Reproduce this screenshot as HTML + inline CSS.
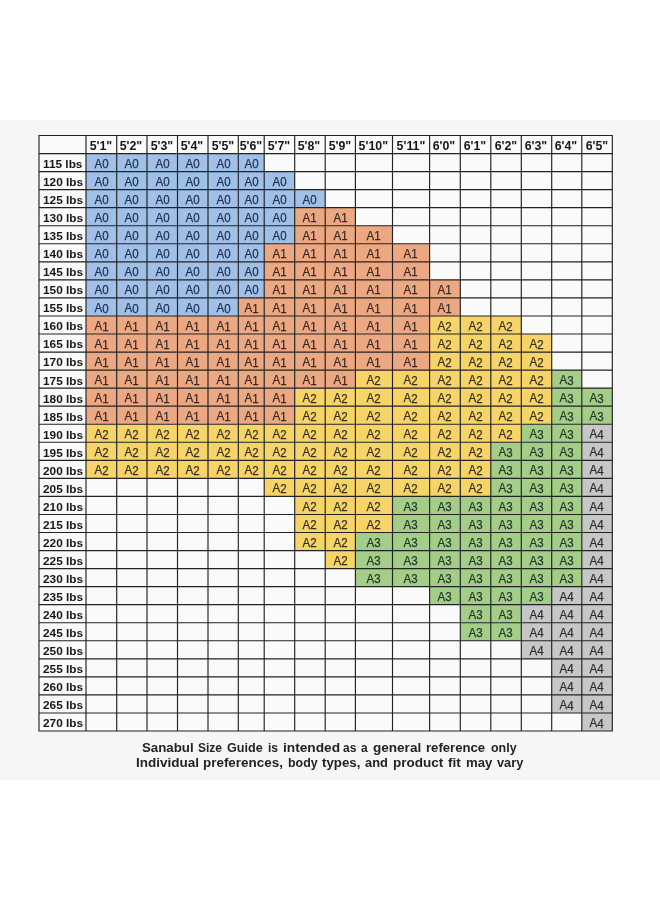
<!DOCTYPE html>
<html><head><meta charset="utf-8"><title>Size Guide</title>
<style>
html,body{margin:0;padding:0;background:#fff;}
body{width:660px;height:900px;position:relative;overflow:hidden;font-family:"Liberation Sans",sans-serif;}
.bg{position:absolute;left:0;top:120px;width:660px;height:659.5px;background:#f6f6f6;}
.t{position:absolute;text-align:center;white-space:nowrap;color:#26304a;font-size:12.4px;line-height:18px;}
.h{position:absolute;text-align:center;white-space:nowrap;color:#161616;font-weight:bold;font-size:12px;line-height:18px;}
.w{position:absolute;text-align:left;white-space:nowrap;color:#161616;font-weight:bold;font-size:11px;line-height:18px;}
.h span,.w span,.t span{display:inline-block;}
.t span{transform:rotate(0.01deg) scaleX(0.93);-webkit-text-stroke:0.25px currentColor;}
.s span{transform:translateY(0.5px) rotate(0.01deg) scaleX(0.93);}
.t0{color:#1f2f52}.t1{color:#3a2a24}.t2{color:#363020}.t3{color:#26382a}.t4{color:#2e2e30}
.n{position:absolute;text-align:left;white-space:nowrap;font-weight:bold;color:#232323;font-size:12px;line-height:15px;}
.n span{display:inline-block;transform-origin:0 50%;}
</style></head><body>
<div class="bg"></div>
<div id="all" style="will-change:transform;position:absolute;left:0;top:0;width:660px;height:900px">

<svg width="660" height="900" viewBox="0 0 660 900" style="position:absolute;left:0;top:0">
<rect x="39.00" y="135.50" width="573.30" height="595.50" fill="#fafafa"/>
<rect x="86.00" y="153.55" width="178.20" height="18.05" fill="#a1c0e7"/>
<rect x="86.00" y="171.59" width="208.70" height="18.05" fill="#a1c0e7"/>
<rect x="86.00" y="189.64" width="239.20" height="18.05" fill="#a1c0e7"/>
<rect x="86.00" y="207.68" width="208.70" height="18.05" fill="#a1c0e7"/>
<rect x="294.70" y="207.68" width="60.70" height="18.05" fill="#eca883"/>
<rect x="86.00" y="225.73" width="208.70" height="18.05" fill="#a1c0e7"/>
<rect x="294.70" y="225.73" width="97.80" height="18.05" fill="#eca883"/>
<rect x="86.00" y="243.77" width="178.20" height="18.05" fill="#a1c0e7"/>
<rect x="264.20" y="243.77" width="165.40" height="18.05" fill="#eca883"/>
<rect x="86.00" y="261.82" width="178.20" height="18.05" fill="#a1c0e7"/>
<rect x="264.20" y="261.82" width="165.40" height="18.05" fill="#eca883"/>
<rect x="86.00" y="279.86" width="178.20" height="18.05" fill="#a1c0e7"/>
<rect x="264.20" y="279.86" width="196.10" height="18.05" fill="#eca883"/>
<rect x="86.00" y="297.91" width="152.30" height="18.05" fill="#a1c0e7"/>
<rect x="238.30" y="297.91" width="222.00" height="18.05" fill="#eca883"/>
<rect x="86.00" y="315.95" width="343.60" height="18.05" fill="#eca883"/>
<rect x="429.60" y="315.95" width="91.70" height="18.05" fill="#f7d468"/>
<rect x="86.00" y="334.00" width="343.60" height="18.05" fill="#eca883"/>
<rect x="429.60" y="334.00" width="122.10" height="18.05" fill="#f7d468"/>
<rect x="86.00" y="352.05" width="343.60" height="18.05" fill="#eca883"/>
<rect x="429.60" y="352.05" width="122.10" height="18.05" fill="#f7d468"/>
<rect x="86.00" y="370.09" width="269.40" height="18.05" fill="#eca883"/>
<rect x="355.40" y="370.09" width="196.30" height="18.05" fill="#f7d468"/>
<rect x="551.70" y="370.09" width="30.10" height="18.05" fill="#a4cd88"/>
<rect x="86.00" y="388.14" width="208.70" height="18.05" fill="#eca883"/>
<rect x="294.70" y="388.14" width="257.00" height="18.05" fill="#f7d468"/>
<rect x="551.70" y="388.14" width="60.60" height="18.05" fill="#a4cd88"/>
<rect x="86.00" y="406.18" width="208.70" height="18.05" fill="#eca883"/>
<rect x="294.70" y="406.18" width="257.00" height="18.05" fill="#f7d468"/>
<rect x="551.70" y="406.18" width="60.60" height="18.05" fill="#a4cd88"/>
<rect x="86.00" y="424.23" width="435.30" height="18.05" fill="#f7d468"/>
<rect x="521.30" y="424.23" width="60.50" height="18.05" fill="#a4cd88"/>
<rect x="581.80" y="424.23" width="30.50" height="18.05" fill="#c7c7c7"/>
<rect x="86.00" y="442.27" width="404.80" height="18.05" fill="#f7d468"/>
<rect x="490.80" y="442.27" width="91.00" height="18.05" fill="#a4cd88"/>
<rect x="581.80" y="442.27" width="30.50" height="18.05" fill="#c7c7c7"/>
<rect x="86.00" y="460.32" width="404.80" height="18.05" fill="#f7d468"/>
<rect x="490.80" y="460.32" width="91.00" height="18.05" fill="#a4cd88"/>
<rect x="581.80" y="460.32" width="30.50" height="18.05" fill="#c7c7c7"/>
<rect x="264.20" y="478.36" width="226.60" height="18.05" fill="#f7d468"/>
<rect x="490.80" y="478.36" width="91.00" height="18.05" fill="#a4cd88"/>
<rect x="581.80" y="478.36" width="30.50" height="18.05" fill="#c7c7c7"/>
<rect x="294.70" y="496.41" width="97.80" height="18.05" fill="#f7d468"/>
<rect x="392.50" y="496.41" width="189.30" height="18.05" fill="#a4cd88"/>
<rect x="581.80" y="496.41" width="30.50" height="18.05" fill="#c7c7c7"/>
<rect x="294.70" y="514.45" width="97.80" height="18.05" fill="#f7d468"/>
<rect x="392.50" y="514.45" width="189.30" height="18.05" fill="#a4cd88"/>
<rect x="581.80" y="514.45" width="30.50" height="18.05" fill="#c7c7c7"/>
<rect x="294.70" y="532.50" width="60.70" height="18.05" fill="#f7d468"/>
<rect x="355.40" y="532.50" width="226.40" height="18.05" fill="#a4cd88"/>
<rect x="581.80" y="532.50" width="30.50" height="18.05" fill="#c7c7c7"/>
<rect x="325.20" y="550.55" width="30.20" height="18.05" fill="#f7d468"/>
<rect x="355.40" y="550.55" width="226.40" height="18.05" fill="#a4cd88"/>
<rect x="581.80" y="550.55" width="30.50" height="18.05" fill="#c7c7c7"/>
<rect x="355.40" y="568.59" width="226.40" height="18.05" fill="#a4cd88"/>
<rect x="581.80" y="568.59" width="30.50" height="18.05" fill="#c7c7c7"/>
<rect x="429.60" y="586.64" width="122.10" height="18.05" fill="#a4cd88"/>
<rect x="551.70" y="586.64" width="60.60" height="18.05" fill="#c7c7c7"/>
<rect x="460.30" y="604.68" width="61.00" height="18.05" fill="#a4cd88"/>
<rect x="521.30" y="604.68" width="91.00" height="18.05" fill="#c7c7c7"/>
<rect x="460.30" y="622.73" width="61.00" height="18.05" fill="#a4cd88"/>
<rect x="521.30" y="622.73" width="91.00" height="18.05" fill="#c7c7c7"/>
<rect x="521.30" y="640.77" width="91.00" height="18.05" fill="#c7c7c7"/>
<rect x="551.70" y="658.82" width="60.60" height="18.05" fill="#c7c7c7"/>
<rect x="551.70" y="676.86" width="60.60" height="18.05" fill="#c7c7c7"/>
<rect x="551.70" y="694.91" width="60.60" height="18.05" fill="#c7c7c7"/>
<rect x="581.80" y="712.95" width="30.50" height="18.05" fill="#c7c7c7"/>
<path d="M39.00 134.93V731.58M86.00 134.93V731.58M116.70 134.93V731.58M147.00 134.93V731.58M177.50 134.93V731.58M208.00 134.93V731.58M238.30 134.93V731.58M264.20 134.93V731.58M294.70 134.93V731.58M325.20 134.93V731.58M355.40 134.93V731.58M392.50 134.93V731.58M429.60 134.93V731.58M460.30 134.93V731.58M490.80 134.93V731.58M521.30 134.93V731.58M551.70 134.93V731.58M581.80 134.93V731.58M612.30 134.93V731.58M38.42 135.50H612.88M38.42 153.55H612.88M38.42 171.59H612.88M38.42 189.64H612.88M38.42 207.68H612.88M38.42 225.73H612.88M38.42 243.77H612.88M38.42 261.82H612.88M38.42 279.86H612.88M38.42 297.91H612.88M38.42 315.95H612.88M38.42 334.00H612.88M38.42 352.05H612.88M38.42 370.09H612.88M38.42 388.14H612.88M38.42 406.18H612.88M38.42 424.23H612.88M38.42 442.27H612.88M38.42 460.32H612.88M38.42 478.36H612.88M38.42 496.41H612.88M38.42 514.45H612.88M38.42 532.50H612.88M38.42 550.55H612.88M38.42 568.59H612.88M38.42 586.64H612.88M38.42 604.68H612.88M38.42 622.73H612.88M38.42 640.77H612.88M38.42 658.82H612.88M38.42 676.86H612.88M38.42 694.91H612.88M38.42 712.95H612.88M38.42 731.00H612.88" stroke="#222222" stroke-width="1.15" fill="none"/>
</svg>
<div class="h" style="left:85.5px;top:136.50px;width:30.7px"><span style="transform:scaleX(1.03)">5'1&quot;</span></div>
<div class="h" style="left:116.2px;top:136.50px;width:30.3px"><span style="transform:scaleX(1.03)">5'2&quot;</span></div>
<div class="h" style="left:146.5px;top:136.50px;width:30.5px"><span style="transform:scaleX(1.03)">5'3&quot;</span></div>
<div class="h" style="left:177.0px;top:136.50px;width:30.5px"><span style="transform:scaleX(1.03)">5'4&quot;</span></div>
<div class="h" style="left:207.5px;top:136.50px;width:30.3px"><span style="transform:scaleX(1.03)">5'5&quot;</span></div>
<div class="h" style="left:237.8px;top:136.50px;width:25.9px"><span style="transform:scaleX(1.03)">5'6&quot;</span></div>
<div class="h" style="left:263.7px;top:136.50px;width:30.5px"><span style="transform:scaleX(1.03)">5'7&quot;</span></div>
<div class="h" style="left:294.2px;top:136.50px;width:30.5px"><span style="transform:scaleX(1.03)">5'8&quot;</span></div>
<div class="h" style="left:324.7px;top:136.50px;width:30.2px"><span style="transform:scaleX(1.03)">5'9&quot;</span></div>
<div class="h" style="left:354.9px;top:136.50px;width:37.1px"><span style="transform:scaleX(1.03)">5'10&quot;</span></div>
<div class="h" style="left:392.0px;top:136.50px;width:37.1px"><span style="transform:scaleX(1.03)">5'11&quot;</span></div>
<div class="h" style="left:429.1px;top:136.50px;width:30.7px"><span style="transform:scaleX(1.03)">6'0&quot;</span></div>
<div class="h" style="left:459.8px;top:136.50px;width:30.5px"><span style="transform:scaleX(1.03)">6'1&quot;</span></div>
<div class="h" style="left:490.3px;top:136.50px;width:30.5px"><span style="transform:scaleX(1.03)">6'2&quot;</span></div>
<div class="h" style="left:520.8px;top:136.50px;width:30.4px"><span style="transform:scaleX(1.03)">6'3&quot;</span></div>
<div class="h" style="left:551.2px;top:136.50px;width:30.1px"><span style="transform:scaleX(1.03)">6'4&quot;</span></div>
<div class="h" style="left:581.3px;top:136.50px;width:30.5px"><span style="transform:scaleX(1.03)">6'5&quot;</span></div>
<div class="w" style="left:43.0px;top:154px;"><span style="transform:translateY(0.5px) rotate(0.01deg) scaleX(1.075);transform-origin:0 50%">115 lbs</span></div>
<div class="w" style="left:43.0px;top:173px;"><span style="transform:translateY(0px) rotate(0.01deg) scaleX(1.075);transform-origin:0 50%">120 lbs</span></div>
<div class="w" style="left:43.0px;top:191px;"><span style="transform:translateY(0px) rotate(0.01deg) scaleX(1.075);transform-origin:0 50%">125 lbs</span></div>
<div class="w" style="left:43.0px;top:209px;"><span style="transform:translateY(0px) rotate(0.01deg) scaleX(1.075);transform-origin:0 50%">130 lbs</span></div>
<div class="w" style="left:43.0px;top:227px;"><span style="transform:translateY(0px) rotate(0.01deg) scaleX(1.075);transform-origin:0 50%">135 lbs</span></div>
<div class="w" style="left:43.0px;top:245px;"><span style="transform:translateY(0px) rotate(0.01deg) scaleX(1.075);transform-origin:0 50%">140 lbs</span></div>
<div class="w" style="left:43.0px;top:263px;"><span style="transform:translateY(0px) rotate(0.01deg) scaleX(1.075);transform-origin:0 50%">145 lbs</span></div>
<div class="w" style="left:43.0px;top:281px;"><span style="transform:translateY(0px) rotate(0.01deg) scaleX(1.075);transform-origin:0 50%">150 lbs</span></div>
<div class="w" style="left:43.0px;top:299px;"><span style="transform:translateY(0px) rotate(0.01deg) scaleX(1.075);transform-origin:0 50%">155 lbs</span></div>
<div class="w" style="left:43.0px;top:317px;"><span style="transform:translateY(0px) rotate(0.01deg) scaleX(1.075);transform-origin:0 50%">160 lbs</span></div>
<div class="w" style="left:43.0px;top:335px;"><span style="transform:translateY(0px) rotate(0.01deg) scaleX(1.075);transform-origin:0 50%">165 lbs</span></div>
<div class="w" style="left:43.0px;top:353px;"><span style="transform:translateY(0px) rotate(0.01deg) scaleX(1.075);transform-origin:0 50%">170 lbs</span></div>
<div class="w" style="left:43.0px;top:371px;"><span style="transform:translateY(0.5px) rotate(0.01deg) scaleX(1.075);transform-origin:0 50%">175 lbs</span></div>
<div class="w" style="left:43.0px;top:389px;"><span style="transform:translateY(0.5px) rotate(0.01deg) scaleX(1.075);transform-origin:0 50%">180 lbs</span></div>
<div class="w" style="left:43.0px;top:407px;"><span style="transform:translateY(0.5px) rotate(0.01deg) scaleX(1.075);transform-origin:0 50%">185 lbs</span></div>
<div class="w" style="left:43.0px;top:425px;"><span style="transform:translateY(0.5px) rotate(0.01deg) scaleX(1.075);transform-origin:0 50%">190 lbs</span></div>
<div class="w" style="left:43.0px;top:443px;"><span style="transform:translateY(0.5px) rotate(0.01deg) scaleX(1.075);transform-origin:0 50%">195 lbs</span></div>
<div class="w" style="left:43.0px;top:461px;"><span style="transform:translateY(0.5px) rotate(0.01deg) scaleX(1.075);transform-origin:0 50%">200 lbs</span></div>
<div class="w" style="left:43.0px;top:479px;"><span style="transform:translateY(0.5px) rotate(0.01deg) scaleX(1.075);transform-origin:0 50%">205 lbs</span></div>
<div class="w" style="left:43.0px;top:497px;"><span style="transform:translateY(0.5px) rotate(0.01deg) scaleX(1.075);transform-origin:0 50%">210 lbs</span></div>
<div class="w" style="left:43.0px;top:515px;"><span style="transform:translateY(0.5px) rotate(0.01deg) scaleX(1.075);transform-origin:0 50%">215 lbs</span></div>
<div class="w" style="left:43.0px;top:533px;"><span style="transform:translateY(0.5px) rotate(0.01deg) scaleX(1.075);transform-origin:0 50%">220 lbs</span></div>
<div class="w" style="left:43.0px;top:551px;"><span style="transform:translateY(0.5px) rotate(0.01deg) scaleX(1.075);transform-origin:0 50%">225 lbs</span></div>
<div class="w" style="left:43.0px;top:570px;"><span style="transform:translateY(0px) rotate(0.01deg) scaleX(1.075);transform-origin:0 50%">230 lbs</span></div>
<div class="w" style="left:43.0px;top:588px;"><span style="transform:translateY(0px) rotate(0.01deg) scaleX(1.075);transform-origin:0 50%">235 lbs</span></div>
<div class="w" style="left:43.0px;top:606px;"><span style="transform:translateY(0px) rotate(0.01deg) scaleX(1.075);transform-origin:0 50%">240 lbs</span></div>
<div class="w" style="left:43.0px;top:624px;"><span style="transform:translateY(0px) rotate(0.01deg) scaleX(1.075);transform-origin:0 50%">245 lbs</span></div>
<div class="w" style="left:43.0px;top:642px;"><span style="transform:translateY(0px) rotate(0.01deg) scaleX(1.075);transform-origin:0 50%">250 lbs</span></div>
<div class="w" style="left:43.0px;top:660px;"><span style="transform:translateY(0px) rotate(0.01deg) scaleX(1.075);transform-origin:0 50%">255 lbs</span></div>
<div class="w" style="left:43.0px;top:678px;"><span style="transform:translateY(0px) rotate(0.01deg) scaleX(1.075);transform-origin:0 50%">260 lbs</span></div>
<div class="w" style="left:43.0px;top:696px;"><span style="transform:translateY(0px) rotate(0.01deg) scaleX(1.075);transform-origin:0 50%">265 lbs</span></div>
<div class="w" style="left:43.0px;top:714px;"><span style="transform:translateY(0px) rotate(0.01deg) scaleX(1.075);transform-origin:0 50%">270 lbs</span></div>
<div class="t t0" style="left:86.0px;top:155px;width:30.7px"><span>A0</span></div>
<div class="t t0" style="left:116.7px;top:155px;width:30.3px"><span>A0</span></div>
<div class="t t0" style="left:147.0px;top:155px;width:30.5px"><span>A0</span></div>
<div class="t t0" style="left:177.5px;top:155px;width:30.5px"><span>A0</span></div>
<div class="t t0" style="left:208.0px;top:155px;width:30.3px"><span>A0</span></div>
<div class="t t0" style="left:238.3px;top:155px;width:25.9px"><span>A0</span></div>
<div class="t t0" style="left:86.0px;top:173px;width:30.7px"><span>A0</span></div>
<div class="t t0" style="left:116.7px;top:173px;width:30.3px"><span>A0</span></div>
<div class="t t0" style="left:147.0px;top:173px;width:30.5px"><span>A0</span></div>
<div class="t t0" style="left:177.5px;top:173px;width:30.5px"><span>A0</span></div>
<div class="t t0" style="left:208.0px;top:173px;width:30.3px"><span>A0</span></div>
<div class="t t0" style="left:238.3px;top:173px;width:25.9px"><span>A0</span></div>
<div class="t t0" style="left:264.2px;top:173px;width:30.5px"><span>A0</span></div>
<div class="t t0" style="left:86.0px;top:191px;width:30.7px"><span>A0</span></div>
<div class="t t0" style="left:116.7px;top:191px;width:30.3px"><span>A0</span></div>
<div class="t t0" style="left:147.0px;top:191px;width:30.5px"><span>A0</span></div>
<div class="t t0" style="left:177.5px;top:191px;width:30.5px"><span>A0</span></div>
<div class="t t0" style="left:208.0px;top:191px;width:30.3px"><span>A0</span></div>
<div class="t t0" style="left:238.3px;top:191px;width:25.9px"><span>A0</span></div>
<div class="t t0" style="left:264.2px;top:191px;width:30.5px"><span>A0</span></div>
<div class="t t0" style="left:294.7px;top:191px;width:30.5px"><span>A0</span></div>
<div class="t t0" style="left:86.0px;top:209px;width:30.7px"><span>A0</span></div>
<div class="t t0" style="left:116.7px;top:209px;width:30.3px"><span>A0</span></div>
<div class="t t0" style="left:147.0px;top:209px;width:30.5px"><span>A0</span></div>
<div class="t t0" style="left:177.5px;top:209px;width:30.5px"><span>A0</span></div>
<div class="t t0" style="left:208.0px;top:209px;width:30.3px"><span>A0</span></div>
<div class="t t0" style="left:238.3px;top:209px;width:25.9px"><span>A0</span></div>
<div class="t t0" style="left:264.2px;top:209px;width:30.5px"><span>A0</span></div>
<div class="t t1" style="left:294.7px;top:209px;width:30.5px"><span>A1</span></div>
<div class="t t1" style="left:325.2px;top:209px;width:30.2px"><span>A1</span></div>
<div class="t t0" style="left:86.0px;top:227px;width:30.7px"><span>A0</span></div>
<div class="t t0" style="left:116.7px;top:227px;width:30.3px"><span>A0</span></div>
<div class="t t0" style="left:147.0px;top:227px;width:30.5px"><span>A0</span></div>
<div class="t t0" style="left:177.5px;top:227px;width:30.5px"><span>A0</span></div>
<div class="t t0" style="left:208.0px;top:227px;width:30.3px"><span>A0</span></div>
<div class="t t0" style="left:238.3px;top:227px;width:25.9px"><span>A0</span></div>
<div class="t t0" style="left:264.2px;top:227px;width:30.5px"><span>A0</span></div>
<div class="t t1" style="left:294.7px;top:227px;width:30.5px"><span>A1</span></div>
<div class="t t1" style="left:325.2px;top:227px;width:30.2px"><span>A1</span></div>
<div class="t t1" style="left:355.4px;top:227px;width:37.1px"><span>A1</span></div>
<div class="t t0" style="left:86.0px;top:245px;width:30.7px"><span>A0</span></div>
<div class="t t0" style="left:116.7px;top:245px;width:30.3px"><span>A0</span></div>
<div class="t t0" style="left:147.0px;top:245px;width:30.5px"><span>A0</span></div>
<div class="t t0" style="left:177.5px;top:245px;width:30.5px"><span>A0</span></div>
<div class="t t0" style="left:208.0px;top:245px;width:30.3px"><span>A0</span></div>
<div class="t t0" style="left:238.3px;top:245px;width:25.9px"><span>A0</span></div>
<div class="t t1" style="left:264.2px;top:245px;width:30.5px"><span>A1</span></div>
<div class="t t1" style="left:294.7px;top:245px;width:30.5px"><span>A1</span></div>
<div class="t t1" style="left:325.2px;top:245px;width:30.2px"><span>A1</span></div>
<div class="t t1" style="left:355.4px;top:245px;width:37.1px"><span>A1</span></div>
<div class="t t1" style="left:392.5px;top:245px;width:37.1px"><span>A1</span></div>
<div class="t t0" style="left:86.0px;top:263px;width:30.7px"><span>A0</span></div>
<div class="t t0" style="left:116.7px;top:263px;width:30.3px"><span>A0</span></div>
<div class="t t0" style="left:147.0px;top:263px;width:30.5px"><span>A0</span></div>
<div class="t t0" style="left:177.5px;top:263px;width:30.5px"><span>A0</span></div>
<div class="t t0" style="left:208.0px;top:263px;width:30.3px"><span>A0</span></div>
<div class="t t0" style="left:238.3px;top:263px;width:25.9px"><span>A0</span></div>
<div class="t t1" style="left:264.2px;top:263px;width:30.5px"><span>A1</span></div>
<div class="t t1" style="left:294.7px;top:263px;width:30.5px"><span>A1</span></div>
<div class="t t1" style="left:325.2px;top:263px;width:30.2px"><span>A1</span></div>
<div class="t t1" style="left:355.4px;top:263px;width:37.1px"><span>A1</span></div>
<div class="t t1" style="left:392.5px;top:263px;width:37.1px"><span>A1</span></div>
<div class="t t0" style="left:86.0px;top:281px;width:30.7px"><span>A0</span></div>
<div class="t t0" style="left:116.7px;top:281px;width:30.3px"><span>A0</span></div>
<div class="t t0" style="left:147.0px;top:281px;width:30.5px"><span>A0</span></div>
<div class="t t0" style="left:177.5px;top:281px;width:30.5px"><span>A0</span></div>
<div class="t t0" style="left:208.0px;top:281px;width:30.3px"><span>A0</span></div>
<div class="t t0" style="left:238.3px;top:281px;width:25.9px"><span>A0</span></div>
<div class="t t1" style="left:264.2px;top:281px;width:30.5px"><span>A1</span></div>
<div class="t t1" style="left:294.7px;top:281px;width:30.5px"><span>A1</span></div>
<div class="t t1" style="left:325.2px;top:281px;width:30.2px"><span>A1</span></div>
<div class="t t1" style="left:355.4px;top:281px;width:37.1px"><span>A1</span></div>
<div class="t t1" style="left:392.5px;top:281px;width:37.1px"><span>A1</span></div>
<div class="t t1" style="left:429.6px;top:281px;width:30.7px"><span>A1</span></div>
<div class="t t0 s" style="left:86.0px;top:299px;width:30.7px"><span>A0</span></div>
<div class="t t0 s" style="left:116.7px;top:299px;width:30.3px"><span>A0</span></div>
<div class="t t0 s" style="left:147.0px;top:299px;width:30.5px"><span>A0</span></div>
<div class="t t0 s" style="left:177.5px;top:299px;width:30.5px"><span>A0</span></div>
<div class="t t0 s" style="left:208.0px;top:299px;width:30.3px"><span>A0</span></div>
<div class="t t1 s" style="left:238.3px;top:299px;width:25.9px"><span>A1</span></div>
<div class="t t1 s" style="left:264.2px;top:299px;width:30.5px"><span>A1</span></div>
<div class="t t1 s" style="left:294.7px;top:299px;width:30.5px"><span>A1</span></div>
<div class="t t1 s" style="left:325.2px;top:299px;width:30.2px"><span>A1</span></div>
<div class="t t1 s" style="left:355.4px;top:299px;width:37.1px"><span>A1</span></div>
<div class="t t1 s" style="left:392.5px;top:299px;width:37.1px"><span>A1</span></div>
<div class="t t1 s" style="left:429.6px;top:299px;width:30.7px"><span>A1</span></div>
<div class="t t1 s" style="left:86.0px;top:317px;width:30.7px"><span>A1</span></div>
<div class="t t1 s" style="left:116.7px;top:317px;width:30.3px"><span>A1</span></div>
<div class="t t1 s" style="left:147.0px;top:317px;width:30.5px"><span>A1</span></div>
<div class="t t1 s" style="left:177.5px;top:317px;width:30.5px"><span>A1</span></div>
<div class="t t1 s" style="left:208.0px;top:317px;width:30.3px"><span>A1</span></div>
<div class="t t1 s" style="left:238.3px;top:317px;width:25.9px"><span>A1</span></div>
<div class="t t1 s" style="left:264.2px;top:317px;width:30.5px"><span>A1</span></div>
<div class="t t1 s" style="left:294.7px;top:317px;width:30.5px"><span>A1</span></div>
<div class="t t1 s" style="left:325.2px;top:317px;width:30.2px"><span>A1</span></div>
<div class="t t1 s" style="left:355.4px;top:317px;width:37.1px"><span>A1</span></div>
<div class="t t1 s" style="left:392.5px;top:317px;width:37.1px"><span>A1</span></div>
<div class="t t2 s" style="left:429.6px;top:317px;width:30.7px"><span>A2</span></div>
<div class="t t2 s" style="left:460.3px;top:317px;width:30.5px"><span>A2</span></div>
<div class="t t2 s" style="left:490.8px;top:317px;width:30.5px"><span>A2</span></div>
<div class="t t1 s" style="left:86.0px;top:335px;width:30.7px"><span>A1</span></div>
<div class="t t1 s" style="left:116.7px;top:335px;width:30.3px"><span>A1</span></div>
<div class="t t1 s" style="left:147.0px;top:335px;width:30.5px"><span>A1</span></div>
<div class="t t1 s" style="left:177.5px;top:335px;width:30.5px"><span>A1</span></div>
<div class="t t1 s" style="left:208.0px;top:335px;width:30.3px"><span>A1</span></div>
<div class="t t1 s" style="left:238.3px;top:335px;width:25.9px"><span>A1</span></div>
<div class="t t1 s" style="left:264.2px;top:335px;width:30.5px"><span>A1</span></div>
<div class="t t1 s" style="left:294.7px;top:335px;width:30.5px"><span>A1</span></div>
<div class="t t1 s" style="left:325.2px;top:335px;width:30.2px"><span>A1</span></div>
<div class="t t1 s" style="left:355.4px;top:335px;width:37.1px"><span>A1</span></div>
<div class="t t1 s" style="left:392.5px;top:335px;width:37.1px"><span>A1</span></div>
<div class="t t2 s" style="left:429.6px;top:335px;width:30.7px"><span>A2</span></div>
<div class="t t2 s" style="left:460.3px;top:335px;width:30.5px"><span>A2</span></div>
<div class="t t2 s" style="left:490.8px;top:335px;width:30.5px"><span>A2</span></div>
<div class="t t2 s" style="left:521.3px;top:335px;width:30.4px"><span>A2</span></div>
<div class="t t1 s" style="left:86.0px;top:353px;width:30.7px"><span>A1</span></div>
<div class="t t1 s" style="left:116.7px;top:353px;width:30.3px"><span>A1</span></div>
<div class="t t1 s" style="left:147.0px;top:353px;width:30.5px"><span>A1</span></div>
<div class="t t1 s" style="left:177.5px;top:353px;width:30.5px"><span>A1</span></div>
<div class="t t1 s" style="left:208.0px;top:353px;width:30.3px"><span>A1</span></div>
<div class="t t1 s" style="left:238.3px;top:353px;width:25.9px"><span>A1</span></div>
<div class="t t1 s" style="left:264.2px;top:353px;width:30.5px"><span>A1</span></div>
<div class="t t1 s" style="left:294.7px;top:353px;width:30.5px"><span>A1</span></div>
<div class="t t1 s" style="left:325.2px;top:353px;width:30.2px"><span>A1</span></div>
<div class="t t1 s" style="left:355.4px;top:353px;width:37.1px"><span>A1</span></div>
<div class="t t1 s" style="left:392.5px;top:353px;width:37.1px"><span>A1</span></div>
<div class="t t2 s" style="left:429.6px;top:353px;width:30.7px"><span>A2</span></div>
<div class="t t2 s" style="left:460.3px;top:353px;width:30.5px"><span>A2</span></div>
<div class="t t2 s" style="left:490.8px;top:353px;width:30.5px"><span>A2</span></div>
<div class="t t2 s" style="left:521.3px;top:353px;width:30.4px"><span>A2</span></div>
<div class="t t1 s" style="left:86.0px;top:371px;width:30.7px"><span>A1</span></div>
<div class="t t1 s" style="left:116.7px;top:371px;width:30.3px"><span>A1</span></div>
<div class="t t1 s" style="left:147.0px;top:371px;width:30.5px"><span>A1</span></div>
<div class="t t1 s" style="left:177.5px;top:371px;width:30.5px"><span>A1</span></div>
<div class="t t1 s" style="left:208.0px;top:371px;width:30.3px"><span>A1</span></div>
<div class="t t1 s" style="left:238.3px;top:371px;width:25.9px"><span>A1</span></div>
<div class="t t1 s" style="left:264.2px;top:371px;width:30.5px"><span>A1</span></div>
<div class="t t1 s" style="left:294.7px;top:371px;width:30.5px"><span>A1</span></div>
<div class="t t1 s" style="left:325.2px;top:371px;width:30.2px"><span>A1</span></div>
<div class="t t2 s" style="left:355.4px;top:371px;width:37.1px"><span>A2</span></div>
<div class="t t2 s" style="left:392.5px;top:371px;width:37.1px"><span>A2</span></div>
<div class="t t2 s" style="left:429.6px;top:371px;width:30.7px"><span>A2</span></div>
<div class="t t2 s" style="left:460.3px;top:371px;width:30.5px"><span>A2</span></div>
<div class="t t2 s" style="left:490.8px;top:371px;width:30.5px"><span>A2</span></div>
<div class="t t2 s" style="left:521.3px;top:371px;width:30.4px"><span>A2</span></div>
<div class="t t3 s" style="left:551.7px;top:371px;width:30.1px"><span>A3</span></div>
<div class="t t1 s" style="left:86.0px;top:389px;width:30.7px"><span>A1</span></div>
<div class="t t1 s" style="left:116.7px;top:389px;width:30.3px"><span>A1</span></div>
<div class="t t1 s" style="left:147.0px;top:389px;width:30.5px"><span>A1</span></div>
<div class="t t1 s" style="left:177.5px;top:389px;width:30.5px"><span>A1</span></div>
<div class="t t1 s" style="left:208.0px;top:389px;width:30.3px"><span>A1</span></div>
<div class="t t1 s" style="left:238.3px;top:389px;width:25.9px"><span>A1</span></div>
<div class="t t1 s" style="left:264.2px;top:389px;width:30.5px"><span>A1</span></div>
<div class="t t2 s" style="left:294.7px;top:389px;width:30.5px"><span>A2</span></div>
<div class="t t2 s" style="left:325.2px;top:389px;width:30.2px"><span>A2</span></div>
<div class="t t2 s" style="left:355.4px;top:389px;width:37.1px"><span>A2</span></div>
<div class="t t2 s" style="left:392.5px;top:389px;width:37.1px"><span>A2</span></div>
<div class="t t2 s" style="left:429.6px;top:389px;width:30.7px"><span>A2</span></div>
<div class="t t2 s" style="left:460.3px;top:389px;width:30.5px"><span>A2</span></div>
<div class="t t2 s" style="left:490.8px;top:389px;width:30.5px"><span>A2</span></div>
<div class="t t2 s" style="left:521.3px;top:389px;width:30.4px"><span>A2</span></div>
<div class="t t3 s" style="left:551.7px;top:389px;width:30.1px"><span>A3</span></div>
<div class="t t3 s" style="left:581.8px;top:389px;width:30.5px"><span>A3</span></div>
<div class="t t1 s" style="left:86.0px;top:407px;width:30.7px"><span>A1</span></div>
<div class="t t1 s" style="left:116.7px;top:407px;width:30.3px"><span>A1</span></div>
<div class="t t1 s" style="left:147.0px;top:407px;width:30.5px"><span>A1</span></div>
<div class="t t1 s" style="left:177.5px;top:407px;width:30.5px"><span>A1</span></div>
<div class="t t1 s" style="left:208.0px;top:407px;width:30.3px"><span>A1</span></div>
<div class="t t1 s" style="left:238.3px;top:407px;width:25.9px"><span>A1</span></div>
<div class="t t1 s" style="left:264.2px;top:407px;width:30.5px"><span>A1</span></div>
<div class="t t2 s" style="left:294.7px;top:407px;width:30.5px"><span>A2</span></div>
<div class="t t2 s" style="left:325.2px;top:407px;width:30.2px"><span>A2</span></div>
<div class="t t2 s" style="left:355.4px;top:407px;width:37.1px"><span>A2</span></div>
<div class="t t2 s" style="left:392.5px;top:407px;width:37.1px"><span>A2</span></div>
<div class="t t2 s" style="left:429.6px;top:407px;width:30.7px"><span>A2</span></div>
<div class="t t2 s" style="left:460.3px;top:407px;width:30.5px"><span>A2</span></div>
<div class="t t2 s" style="left:490.8px;top:407px;width:30.5px"><span>A2</span></div>
<div class="t t2 s" style="left:521.3px;top:407px;width:30.4px"><span>A2</span></div>
<div class="t t3 s" style="left:551.7px;top:407px;width:30.1px"><span>A3</span></div>
<div class="t t3 s" style="left:581.8px;top:407px;width:30.5px"><span>A3</span></div>
<div class="t t2 s" style="left:86.0px;top:425px;width:30.7px"><span>A2</span></div>
<div class="t t2 s" style="left:116.7px;top:425px;width:30.3px"><span>A2</span></div>
<div class="t t2 s" style="left:147.0px;top:425px;width:30.5px"><span>A2</span></div>
<div class="t t2 s" style="left:177.5px;top:425px;width:30.5px"><span>A2</span></div>
<div class="t t2 s" style="left:208.0px;top:425px;width:30.3px"><span>A2</span></div>
<div class="t t2 s" style="left:238.3px;top:425px;width:25.9px"><span>A2</span></div>
<div class="t t2 s" style="left:264.2px;top:425px;width:30.5px"><span>A2</span></div>
<div class="t t2 s" style="left:294.7px;top:425px;width:30.5px"><span>A2</span></div>
<div class="t t2 s" style="left:325.2px;top:425px;width:30.2px"><span>A2</span></div>
<div class="t t2 s" style="left:355.4px;top:425px;width:37.1px"><span>A2</span></div>
<div class="t t2 s" style="left:392.5px;top:425px;width:37.1px"><span>A2</span></div>
<div class="t t2 s" style="left:429.6px;top:425px;width:30.7px"><span>A2</span></div>
<div class="t t2 s" style="left:460.3px;top:425px;width:30.5px"><span>A2</span></div>
<div class="t t2 s" style="left:490.8px;top:425px;width:30.5px"><span>A2</span></div>
<div class="t t3 s" style="left:521.3px;top:425px;width:30.4px"><span>A3</span></div>
<div class="t t3 s" style="left:551.7px;top:425px;width:30.1px"><span>A3</span></div>
<div class="t t4 s" style="left:581.8px;top:425px;width:30.5px"><span>A4</span></div>
<div class="t t2 s" style="left:86.0px;top:443px;width:30.7px"><span>A2</span></div>
<div class="t t2 s" style="left:116.7px;top:443px;width:30.3px"><span>A2</span></div>
<div class="t t2 s" style="left:147.0px;top:443px;width:30.5px"><span>A2</span></div>
<div class="t t2 s" style="left:177.5px;top:443px;width:30.5px"><span>A2</span></div>
<div class="t t2 s" style="left:208.0px;top:443px;width:30.3px"><span>A2</span></div>
<div class="t t2 s" style="left:238.3px;top:443px;width:25.9px"><span>A2</span></div>
<div class="t t2 s" style="left:264.2px;top:443px;width:30.5px"><span>A2</span></div>
<div class="t t2 s" style="left:294.7px;top:443px;width:30.5px"><span>A2</span></div>
<div class="t t2 s" style="left:325.2px;top:443px;width:30.2px"><span>A2</span></div>
<div class="t t2 s" style="left:355.4px;top:443px;width:37.1px"><span>A2</span></div>
<div class="t t2 s" style="left:392.5px;top:443px;width:37.1px"><span>A2</span></div>
<div class="t t2 s" style="left:429.6px;top:443px;width:30.7px"><span>A2</span></div>
<div class="t t2 s" style="left:460.3px;top:443px;width:30.5px"><span>A2</span></div>
<div class="t t3 s" style="left:490.8px;top:443px;width:30.5px"><span>A3</span></div>
<div class="t t3 s" style="left:521.3px;top:443px;width:30.4px"><span>A3</span></div>
<div class="t t3 s" style="left:551.7px;top:443px;width:30.1px"><span>A3</span></div>
<div class="t t4 s" style="left:581.8px;top:443px;width:30.5px"><span>A4</span></div>
<div class="t t2 s" style="left:86.0px;top:461px;width:30.7px"><span>A2</span></div>
<div class="t t2 s" style="left:116.7px;top:461px;width:30.3px"><span>A2</span></div>
<div class="t t2 s" style="left:147.0px;top:461px;width:30.5px"><span>A2</span></div>
<div class="t t2 s" style="left:177.5px;top:461px;width:30.5px"><span>A2</span></div>
<div class="t t2 s" style="left:208.0px;top:461px;width:30.3px"><span>A2</span></div>
<div class="t t2 s" style="left:238.3px;top:461px;width:25.9px"><span>A2</span></div>
<div class="t t2 s" style="left:264.2px;top:461px;width:30.5px"><span>A2</span></div>
<div class="t t2 s" style="left:294.7px;top:461px;width:30.5px"><span>A2</span></div>
<div class="t t2 s" style="left:325.2px;top:461px;width:30.2px"><span>A2</span></div>
<div class="t t2 s" style="left:355.4px;top:461px;width:37.1px"><span>A2</span></div>
<div class="t t2 s" style="left:392.5px;top:461px;width:37.1px"><span>A2</span></div>
<div class="t t2 s" style="left:429.6px;top:461px;width:30.7px"><span>A2</span></div>
<div class="t t2 s" style="left:460.3px;top:461px;width:30.5px"><span>A2</span></div>
<div class="t t3 s" style="left:490.8px;top:461px;width:30.5px"><span>A3</span></div>
<div class="t t3 s" style="left:521.3px;top:461px;width:30.4px"><span>A3</span></div>
<div class="t t3 s" style="left:551.7px;top:461px;width:30.1px"><span>A3</span></div>
<div class="t t4 s" style="left:581.8px;top:461px;width:30.5px"><span>A4</span></div>
<div class="t t2 s" style="left:264.2px;top:479px;width:30.5px"><span>A2</span></div>
<div class="t t2 s" style="left:294.7px;top:479px;width:30.5px"><span>A2</span></div>
<div class="t t2 s" style="left:325.2px;top:479px;width:30.2px"><span>A2</span></div>
<div class="t t2 s" style="left:355.4px;top:479px;width:37.1px"><span>A2</span></div>
<div class="t t2 s" style="left:392.5px;top:479px;width:37.1px"><span>A2</span></div>
<div class="t t2 s" style="left:429.6px;top:479px;width:30.7px"><span>A2</span></div>
<div class="t t2 s" style="left:460.3px;top:479px;width:30.5px"><span>A2</span></div>
<div class="t t3 s" style="left:490.8px;top:479px;width:30.5px"><span>A3</span></div>
<div class="t t3 s" style="left:521.3px;top:479px;width:30.4px"><span>A3</span></div>
<div class="t t3 s" style="left:551.7px;top:479px;width:30.1px"><span>A3</span></div>
<div class="t t4 s" style="left:581.8px;top:479px;width:30.5px"><span>A4</span></div>
<div class="t t2" style="left:294.7px;top:498px;width:30.5px"><span>A2</span></div>
<div class="t t2" style="left:325.2px;top:498px;width:30.2px"><span>A2</span></div>
<div class="t t2" style="left:355.4px;top:498px;width:37.1px"><span>A2</span></div>
<div class="t t3" style="left:392.5px;top:498px;width:37.1px"><span>A3</span></div>
<div class="t t3" style="left:429.6px;top:498px;width:30.7px"><span>A3</span></div>
<div class="t t3" style="left:460.3px;top:498px;width:30.5px"><span>A3</span></div>
<div class="t t3" style="left:490.8px;top:498px;width:30.5px"><span>A3</span></div>
<div class="t t3" style="left:521.3px;top:498px;width:30.4px"><span>A3</span></div>
<div class="t t3" style="left:551.7px;top:498px;width:30.1px"><span>A3</span></div>
<div class="t t4" style="left:581.8px;top:498px;width:30.5px"><span>A4</span></div>
<div class="t t2" style="left:294.7px;top:516px;width:30.5px"><span>A2</span></div>
<div class="t t2" style="left:325.2px;top:516px;width:30.2px"><span>A2</span></div>
<div class="t t2" style="left:355.4px;top:516px;width:37.1px"><span>A2</span></div>
<div class="t t3" style="left:392.5px;top:516px;width:37.1px"><span>A3</span></div>
<div class="t t3" style="left:429.6px;top:516px;width:30.7px"><span>A3</span></div>
<div class="t t3" style="left:460.3px;top:516px;width:30.5px"><span>A3</span></div>
<div class="t t3" style="left:490.8px;top:516px;width:30.5px"><span>A3</span></div>
<div class="t t3" style="left:521.3px;top:516px;width:30.4px"><span>A3</span></div>
<div class="t t3" style="left:551.7px;top:516px;width:30.1px"><span>A3</span></div>
<div class="t t4" style="left:581.8px;top:516px;width:30.5px"><span>A4</span></div>
<div class="t t2" style="left:294.7px;top:534px;width:30.5px"><span>A2</span></div>
<div class="t t2" style="left:325.2px;top:534px;width:30.2px"><span>A2</span></div>
<div class="t t3" style="left:355.4px;top:534px;width:37.1px"><span>A3</span></div>
<div class="t t3" style="left:392.5px;top:534px;width:37.1px"><span>A3</span></div>
<div class="t t3" style="left:429.6px;top:534px;width:30.7px"><span>A3</span></div>
<div class="t t3" style="left:460.3px;top:534px;width:30.5px"><span>A3</span></div>
<div class="t t3" style="left:490.8px;top:534px;width:30.5px"><span>A3</span></div>
<div class="t t3" style="left:521.3px;top:534px;width:30.4px"><span>A3</span></div>
<div class="t t3" style="left:551.7px;top:534px;width:30.1px"><span>A3</span></div>
<div class="t t4" style="left:581.8px;top:534px;width:30.5px"><span>A4</span></div>
<div class="t t2" style="left:325.2px;top:552px;width:30.2px"><span>A2</span></div>
<div class="t t3" style="left:355.4px;top:552px;width:37.1px"><span>A3</span></div>
<div class="t t3" style="left:392.5px;top:552px;width:37.1px"><span>A3</span></div>
<div class="t t3" style="left:429.6px;top:552px;width:30.7px"><span>A3</span></div>
<div class="t t3" style="left:460.3px;top:552px;width:30.5px"><span>A3</span></div>
<div class="t t3" style="left:490.8px;top:552px;width:30.5px"><span>A3</span></div>
<div class="t t3" style="left:521.3px;top:552px;width:30.4px"><span>A3</span></div>
<div class="t t3" style="left:551.7px;top:552px;width:30.1px"><span>A3</span></div>
<div class="t t4" style="left:581.8px;top:552px;width:30.5px"><span>A4</span></div>
<div class="t t3" style="left:355.4px;top:570px;width:37.1px"><span>A3</span></div>
<div class="t t3" style="left:392.5px;top:570px;width:37.1px"><span>A3</span></div>
<div class="t t3" style="left:429.6px;top:570px;width:30.7px"><span>A3</span></div>
<div class="t t3" style="left:460.3px;top:570px;width:30.5px"><span>A3</span></div>
<div class="t t3" style="left:490.8px;top:570px;width:30.5px"><span>A3</span></div>
<div class="t t3" style="left:521.3px;top:570px;width:30.4px"><span>A3</span></div>
<div class="t t3" style="left:551.7px;top:570px;width:30.1px"><span>A3</span></div>
<div class="t t4" style="left:581.8px;top:570px;width:30.5px"><span>A4</span></div>
<div class="t t3" style="left:429.6px;top:588px;width:30.7px"><span>A3</span></div>
<div class="t t3" style="left:460.3px;top:588px;width:30.5px"><span>A3</span></div>
<div class="t t3" style="left:490.8px;top:588px;width:30.5px"><span>A3</span></div>
<div class="t t3" style="left:521.3px;top:588px;width:30.4px"><span>A3</span></div>
<div class="t t4" style="left:551.7px;top:588px;width:30.1px"><span>A4</span></div>
<div class="t t4" style="left:581.8px;top:588px;width:30.5px"><span>A4</span></div>
<div class="t t3" style="left:460.3px;top:606px;width:30.5px"><span>A3</span></div>
<div class="t t3" style="left:490.8px;top:606px;width:30.5px"><span>A3</span></div>
<div class="t t4" style="left:521.3px;top:606px;width:30.4px"><span>A4</span></div>
<div class="t t4" style="left:551.7px;top:606px;width:30.1px"><span>A4</span></div>
<div class="t t4" style="left:581.8px;top:606px;width:30.5px"><span>A4</span></div>
<div class="t t3" style="left:460.3px;top:624px;width:30.5px"><span>A3</span></div>
<div class="t t3" style="left:490.8px;top:624px;width:30.5px"><span>A3</span></div>
<div class="t t4" style="left:521.3px;top:624px;width:30.4px"><span>A4</span></div>
<div class="t t4" style="left:551.7px;top:624px;width:30.1px"><span>A4</span></div>
<div class="t t4" style="left:581.8px;top:624px;width:30.5px"><span>A4</span></div>
<div class="t t4" style="left:521.3px;top:642px;width:30.4px"><span>A4</span></div>
<div class="t t4" style="left:551.7px;top:642px;width:30.1px"><span>A4</span></div>
<div class="t t4" style="left:581.8px;top:642px;width:30.5px"><span>A4</span></div>
<div class="t t4" style="left:551.7px;top:660px;width:30.1px"><span>A4</span></div>
<div class="t t4" style="left:581.8px;top:660px;width:30.5px"><span>A4</span></div>
<div class="t t4" style="left:551.7px;top:678px;width:30.1px"><span>A4</span></div>
<div class="t t4" style="left:581.8px;top:678px;width:30.5px"><span>A4</span></div>
<div class="t t4 s" style="left:551.7px;top:696px;width:30.1px"><span>A4</span></div>
<div class="t t4 s" style="left:581.8px;top:696px;width:30.5px"><span>A4</span></div>
<div class="t t4 s" style="left:581.8px;top:714px;width:30.5px"><span>A4</span></div>
<div class="n" style="top:740px;left:142.00px"><span style="transform:translateY(0.5px) rotate(0.01deg) scaleX(1.107)">Sanabul</span></div>
<div class="n" style="top:740px;left:197.68px"><span style="transform:translateY(0.5px) rotate(0.01deg) scaleX(1.0)">Size</span></div>
<div class="n" style="top:740px;left:227.00px"><span style="transform:translateY(0.5px) rotate(0.01deg) scaleX(1.0487)">Guide</span></div>
<div class="n" style="top:740px;left:267.93px"><span style="transform:translateY(0.5px) rotate(0.01deg) scaleX(1.0)">is</span></div>
<div class="n" style="top:740px;left:282.54px"><span style="transform:translateY(0.5px) rotate(0.01deg) scaleX(1.14)">intended</span></div>
<div class="n" style="top:740px;left:342.91px"><span style="transform:translateY(0.5px) rotate(0.01deg) scaleX(1.0)">as</span></div>
<div class="n" style="top:740px;left:361.15px"><span style="transform:translateY(0.5px) rotate(0.01deg) scaleX(1.0)">a</span></div>
<div class="n" style="top:740px;left:372.50px"><span style="transform:translateY(0.5px) rotate(0.01deg) scaleX(1.1286)">general</span></div>
<div class="n" style="top:740px;left:426.30px"><span style="transform:translateY(0.5px) rotate(0.01deg) scaleX(1.0945)">reference</span></div>
<div class="n" style="top:740px;left:490.80px"><span style="transform:translateY(0.5px) rotate(0.01deg) scaleX(1.0362)">only</span></div>
<div class="n" style="top:755px;left:135.80px"><span style="transform:translateY(0.5px) rotate(0.01deg) scaleX(1.1227)">Individual</span></div>
<div class="n" style="top:755px;left:203.00px"><span style="transform:translateY(0.5px) rotate(0.01deg) scaleX(1.1191)">preferences,</span></div>
<div class="n" style="top:755px;left:287.50px"><span style="transform:translateY(0.5px) rotate(0.01deg) scaleX(1.0348)">body</span></div>
<div class="n" style="top:755px;left:322.00px"><span style="transform:translateY(0.5px) rotate(0.01deg) scaleX(1.1063)">types,</span></div>
<div class="n" style="top:755px;left:365.00px"><span style="transform:translateY(0.5px) rotate(0.01deg) scaleX(1.0712)">and</span></div>
<div class="n" style="top:755px;left:393.00px"><span style="transform:translateY(0.5px) rotate(0.01deg) scaleX(1.1262)">product</span></div>
<div class="n" style="top:755px;left:448.00px"><span style="transform:translateY(0.5px) rotate(0.01deg) scaleX(1.1297)">fit</span></div>
<div class="n" style="top:755px;left:465.80px"><span style="transform:translateY(0.5px) rotate(0.01deg) scaleX(1.0968)">may</span></div>
<div class="n" style="top:755px;left:496.70px"><span style="transform:translateY(0.5px) rotate(0.01deg) scaleX(1.0633)">vary</span></div>
</div></body></html>
